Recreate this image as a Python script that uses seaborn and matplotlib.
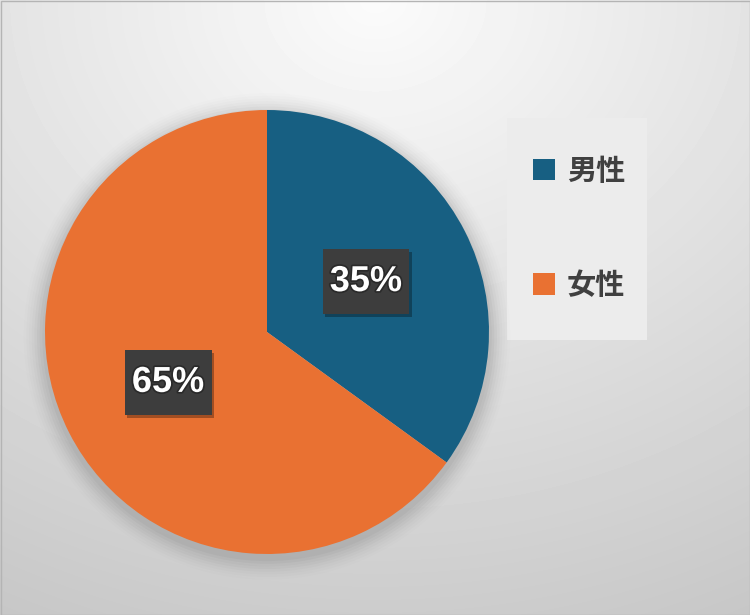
import numpy as np
import matplotlib
matplotlib.use("Agg")
import matplotlib.pyplot as plt
import matplotlib.patheffects as pe
from matplotlib.patches import Rectangle, Circle
from matplotlib.path import Path
import seaborn as sns

categories = ["男性", "女性"]
values = [35, 65]
colors = ["#175F82", "#E97132"]

sns.set_style("white")
plt.rcParams['font.family'] = ['Noto Sans CJK JP', 'DejaVu Sans']

W, H = 750, 615
fig = plt.figure(figsize=(W / 100, H / 100), dpi=100)

# background radial gradient
bg = fig.add_axes([0, 0, 1, 1])
yy, xx = np.mgrid[0:H, 0:W]
d = np.sqrt(((xx - 375) / 750.0) ** 2 + ((yy - 0) / 615.0) ** 2)
val = np.clip(251 - 47 * d, 0, 255) / 255.0
bg.imshow(val, cmap="gray", vmin=0, vmax=1, aspect="auto", extent=[0, W, H, 0])
bg.set_xlim(0, W)
bg.set_ylim(H, 0)
bg.axis("off")
bg.add_patch(Rectangle((0.5, 0.5), W - 1, H - 1, fill=False, edgecolor="#b4b4b4", lw=1))
# legend panel
bg.add_patch(Rectangle((507, 118), 140, 222, facecolor="#ececec", edgecolor="none"))

cx, cy, r = 267, 332, 222
ax = fig.add_axes([(cx - r) / W, (H - cy - r) / H, 2 * r / W, 2 * r / H])
ax.axis("off")

# soft shadow
for i, a in enumerate(np.linspace(0.05, 0.012, 8)):
    c = Circle((0.0, -0.02), 1.0 + 0.012 * (i + 1), facecolor="black",
               alpha=a * 0.6, edgecolor="none", zorder=0)
    c.set_clip_on(False)
    ax.add_patch(c)

wedges, texts, autotexts = ax.pie(
    values, colors=colors, startangle=90, counterclock=False,
    autopct=lambda p: f"{p:.0f}%", pctdistance=0.5, radius=1.0,
    wedgeprops=dict(linewidth=0), textprops=dict(color="white"))
ax.set_xlim(-1, 1)
ax.set_ylim(-1, 1)
ax.set_aspect("equal")


def label_box(x0, y0, width, height, mutation_size):
    px = 0.2 * mutation_size
    py = 0.42 * mutation_size
    x0, y0 = x0 - px, y0 - py
    x1, y1 = x0 + width + 2 * px, y0 + height + 2 * py
    return Path([(x0, y0), (x1, y0), (x1, y1), (x0, y1), (x0, y0)], closed=True)


for t in autotexts:
    t.set_fontfamily(["Liberation Sans", "DejaVu Sans"])
    t.set_fontweight("bold")
    t.set_fontsize(26)
    t.set_path_effects([pe.withStroke(linewidth=2.5, foreground="#2a2a2a")])
    t.set_bbox(dict(boxstyle=label_box, facecolor="#3d3d3d", edgecolor="none"))
    t.get_bbox_patch().set_path_effects([
        pe.SimplePatchShadow(offset=(2, -2), shadow_rgbFace="black", alpha=0.3),
        pe.Normal()])

leg = fig.legend(wedges, categories, loc="center",
                 bbox_to_anchor=(579 / W, 1 - 228 / H), frameon=False,
                 handlelength=0.75, handleheight=0.75, handletextpad=0.4,
                 labelspacing=2.9, prop=dict(family=['Noto Sans CJK JP', 'DejaVu Sans'],
                                              weight="bold", size=21))
for txt in leg.get_texts():
    txt.set_color("#404040")

fig.savefig("out.png", dpi=100)
